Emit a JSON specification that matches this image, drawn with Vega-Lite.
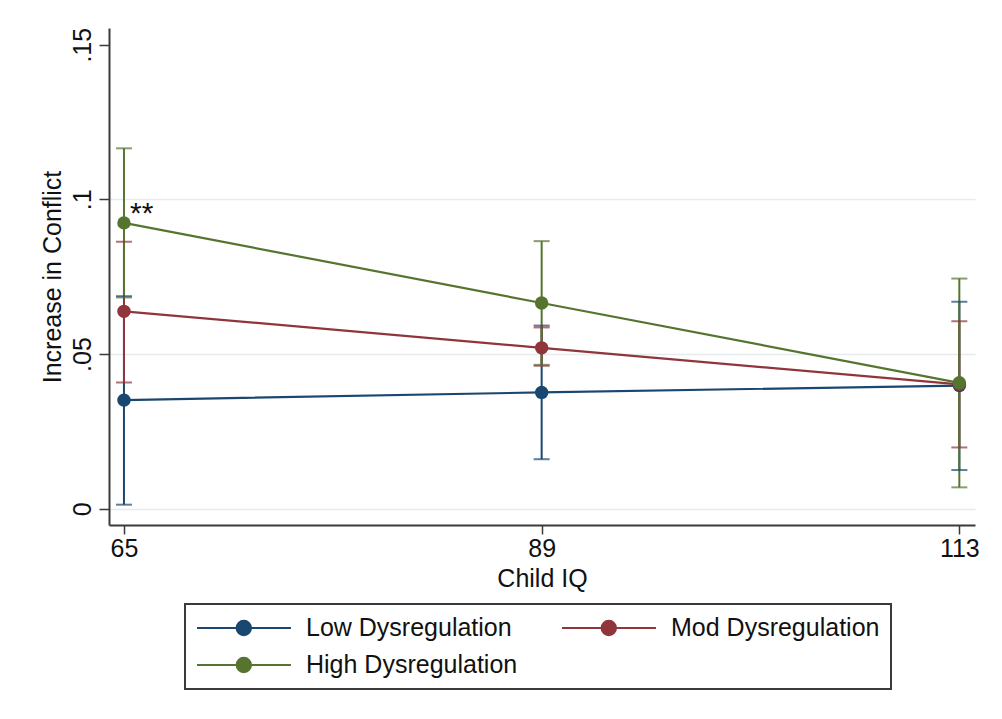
{
  "$schema": "https://vega.github.io/schema/vega-lite/v6.json",
  "autosize": {"type": "none"},
  "width": 866,
  "height": 497,
  "padding": {"left": 109, "top": 28, "right": 27, "bottom": 194},
  "background": "white",
  "config": {
    "view": {"stroke": null},
    "font": "Liberation Sans"
  },
  "resolve": {"legend": {"color": "independent"}},
  "data": {
    "values": [
      {"iq": 65, "group": "Low Dysregulation", "est": 0.0351, "lo": 0.0013, "hi": 0.0687},
      {"iq": 89, "group": "Low Dysregulation", "est": 0.0376, "lo": 0.0160, "hi": 0.0592},
      {"iq": 113, "group": "Low Dysregulation", "est": 0.0398, "lo": 0.0125, "hi": 0.0669},
      {"iq": 65, "group": "Mod Dysregulation", "est": 0.0638, "lo": 0.0408, "hi": 0.0863},
      {"iq": 89, "group": "Mod Dysregulation", "est": 0.0520, "lo": 0.0462, "hi": 0.0586},
      {"iq": 113, "group": "Mod Dysregulation", "est": 0.0402, "lo": 0.0198, "hi": 0.0606},
      {"iq": 65, "group": "High Dysregulation", "est": 0.0924, "lo": 0.0683, "hi": 0.1165},
      {"iq": 89, "group": "High Dysregulation", "est": 0.0665, "lo": 0.0465, "hi": 0.0865},
      {"iq": 113, "group": "High Dysregulation", "est": 0.0407, "lo": 0.0069, "hi": 0.0744}
    ]
  },
  "encoding": {
    "x": {
      "field": "iq", "type": "quantitative",
      "scale": {"domain": [64.14, 113.9], "nice": false, "zero": false},
      "axis": {
        "title": "Child IQ", "values": [65, 89, 113], "grid": false,
        "domainColor": "#3a3a3a", "domainWidth": 2, "tickColor": "#3a3a3a", "tickWidth": 1.5, "tickSize": 9,
        "labelFontSize": 25, "labelColor": "#111", "labelPadding": 2, "labelFlush": false,
        "titleFontSize": 25, "titleFontWeight": "normal", "titleColor": "#111", "titlePadding": 5
      }
    }
  },
  "layer": [
    {
      "mark": {"type": "rule", "strokeWidth": 2},
      "encoding": {
        "y": {
          "field": "lo", "type": "quantitative",
          "scale": {"domain": [-0.00527, 0.1554], "nice": false, "zero": false},
          "axis": {
            "title": "Increase in Conflict", "values": [0, 0.05, 0.1, 0.15],
            "labelExpr": "datum.value == 0 ? '0' : replace(format(datum.value, '.2~f'), '0.', '.')",
            "labelAngle": -90, "labelAlign": "center", "labelBaseline": "bottom",
            "labelFontSize": 25, "labelColor": "#111", "labelPadding": 4,
            "domainColor": "#3a3a3a", "domainWidth": 2, "tickColor": "#3a3a3a", "tickWidth": 1.5, "tickSize": 10,
            "grid": true, "gridColor": "#e6ecee", "gridWidth": 1.5,
            "gridOpacity": {"condition": {"test": "datum.value > 0.12", "value": 0}, "value": 1},
            "titleFontSize": 25, "titleFontWeight": "normal", "titleColor": "#111", "titlePadding": 5
          }
        },
        "y2": {"field": "hi"},
        "color": {
          "field": "group", "type": "nominal",
          "scale": {"domain": ["Low Dysregulation", "Mod Dysregulation", "High Dysregulation"], "range": ["#1a476f", "#90353b", "#55752f"]},
          "legend": null
        }
      }
    },
    {
      "mark": {"type": "tick", "orient": "horizontal", "size": 16, "thickness": 2},
      "encoding": {
        "y": {"field": "lo", "type": "quantitative"},
        "color": {"field": "group", "type": "nominal", "legend": null}
      }
    },
    {
      "mark": {"type": "tick", "orient": "horizontal", "size": 16, "thickness": 2},
      "encoding": {
        "y": {"field": "hi", "type": "quantitative"},
        "color": {"field": "group", "type": "nominal", "legend": null}
      }
    },
    {
      "mark": {"type": "line", "strokeWidth": 2.2},
      "encoding": {
        "y": {"field": "est", "type": "quantitative"},
        "color": {
          "field": "group", "type": "nominal",
          "legend": {
            "title": null, "orient": "none", "legendX": 76, "legendY": 576,
            "direction": "horizontal", "columns": 2, "gridAlign": "all",
            "strokeColor": "#3a3a3a", "fillColor": "white",
            "padding": 11, "rowPadding": 11, "columnPadding": 40,
            "labelFontSize": 25, "labelColor": "#111", "labelOffset": 84, "labelLimit": 400,
            "symbolType": "M-1,0H6.83M3.5,0A0.6,0.6 0 1 1 2.3,0A0.6,0.6 0 1 1 3.5,0Z",
            "symbolSize": 576, "symbolStrokeWidth": 2,
            "encode": {
              "legend": {"update": {"strokeWidth": {"value": 2}}},
              "symbols": {"update": {"fill": {"scale": "color", "field": "value"}, "fillOpacity": {"value": 1}}}
            }
          }
        }
      }
    },
    {
      "mark": {"type": "point", "filled": true, "size": 180, "opacity": 1},
      "encoding": {
        "y": {"field": "est", "type": "quantitative"},
        "color": {"field": "group", "type": "nominal", "legend": null}
      }
    },
    {
      "transform": [{"filter": "datum.group == 'High Dysregulation' && datum.iq == 65"}],
      "mark": {"type": "text", "align": "left", "baseline": "alphabetic", "dx": 6, "dy": 0, "fontSize": 30},
      "encoding": {
        "y": {"field": "est", "type": "quantitative"},
        "text": {"value": "**"},
        "color": {"value": "#111"}
      }
    }
  ]
}
